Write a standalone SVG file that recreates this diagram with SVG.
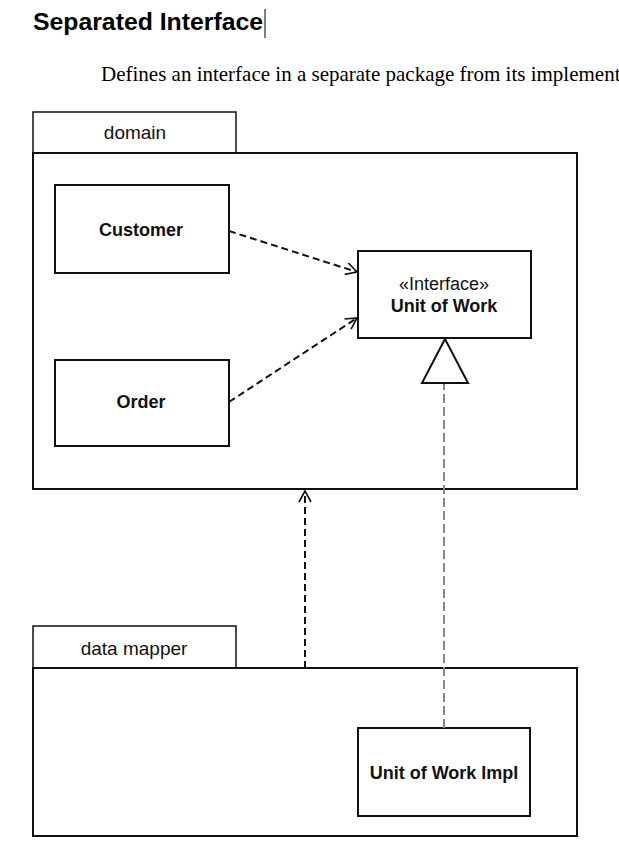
<svg xmlns="http://www.w3.org/2000/svg" width="619" height="860" viewBox="0 0 619 860">
<style>
.box{fill:#fff;stroke:#111;stroke-width:2}
.tab{fill:#fff;stroke:#111;stroke-width:1.5}
.lbl{font-family:"Liberation Sans",Arial,sans-serif;font-size:18px;fill:#111;text-anchor:middle}
.pk{font-size:19px}
.b{font-weight:bold}
.dep{fill:none;stroke:#111;stroke-width:2;stroke-dasharray:7,4}
.real{fill:none;stroke:#888;stroke-width:2;stroke-dasharray:9,4}
</style>
<defs>
<marker id="open" markerWidth="14" markerHeight="14" refX="12" refY="7" orient="auto" markerUnits="userSpaceOnUse">
<path d="M1,1 L12,7 L1,13" fill="none" stroke="#111" stroke-width="1.6"/>
</marker>
</defs>
<rect width="619" height="860" fill="#fff"/>
<text x="33" y="30" font-family="Liberation Sans,Arial,sans-serif" font-size="24.5" font-weight="bold" fill="#000" textLength="230" lengthAdjust="spacingAndGlyphs">Separated Interface</text>
<line x1="265" y1="9" x2="265" y2="38" stroke="#000" stroke-width="1"/>
<text x="101" y="81" font-family="Liberation Serif,Times New Roman,serif" font-size="21" fill="#000">Defines an interface in a separate package from its implement</text>
<g id="domain">
<rect class="tab" x="33" y="112" width="203" height="41"/>
<rect class="box" x="33" y="153" width="544" height="336"/>
<text class="lbl pk" x="135" y="139">domain</text>
</g>
<g id="customer">
<rect class="box" x="55" y="185" width="174" height="88"/>
<text class="lbl b" x="141" y="236">Customer</text>
</g>
<g id="order">
<rect class="box" x="55" y="360" width="174" height="86"/>
<text class="lbl b" x="141" y="408">Order</text>
</g>
<g id="unitofwork">
<rect class="box" x="358" y="251" width="173" height="87"/>
<text class="lbl" x="444" y="290" font-size="14" fill="#444">«Interface»</text>
<text class="lbl b" x="444" y="312">Unit of Work</text>
</g>
<g id="datamapper">
<rect class="tab" x="33" y="626" width="203" height="42"/>
<rect class="box" x="33" y="668" width="544" height="168"/>
<text class="lbl pk" x="134" y="655">data mapper</text>
</g>
<g id="unitofworkimpl">
<rect class="box" x="358" y="728" width="172" height="88"/>
<text class="lbl b" x="444" y="779">Unit of Work Impl</text>
</g>
<g id="connectors">
<line class="dep" x1="229" y1="231" x2="357" y2="272" marker-end="url(#open)"/>
<line class="dep" x1="229" y1="402" x2="357" y2="318" marker-end="url(#open)"/>
<line class="dep" x1="305" y1="668" x2="305" y2="491" marker-end="url(#open)"/>
<line class="real" x1="444" y1="728" x2="444" y2="383"/>
<polygon points="445,339 468,383 422,383" fill="#fff" stroke="#111" stroke-width="2"/>
</g>
</svg>
